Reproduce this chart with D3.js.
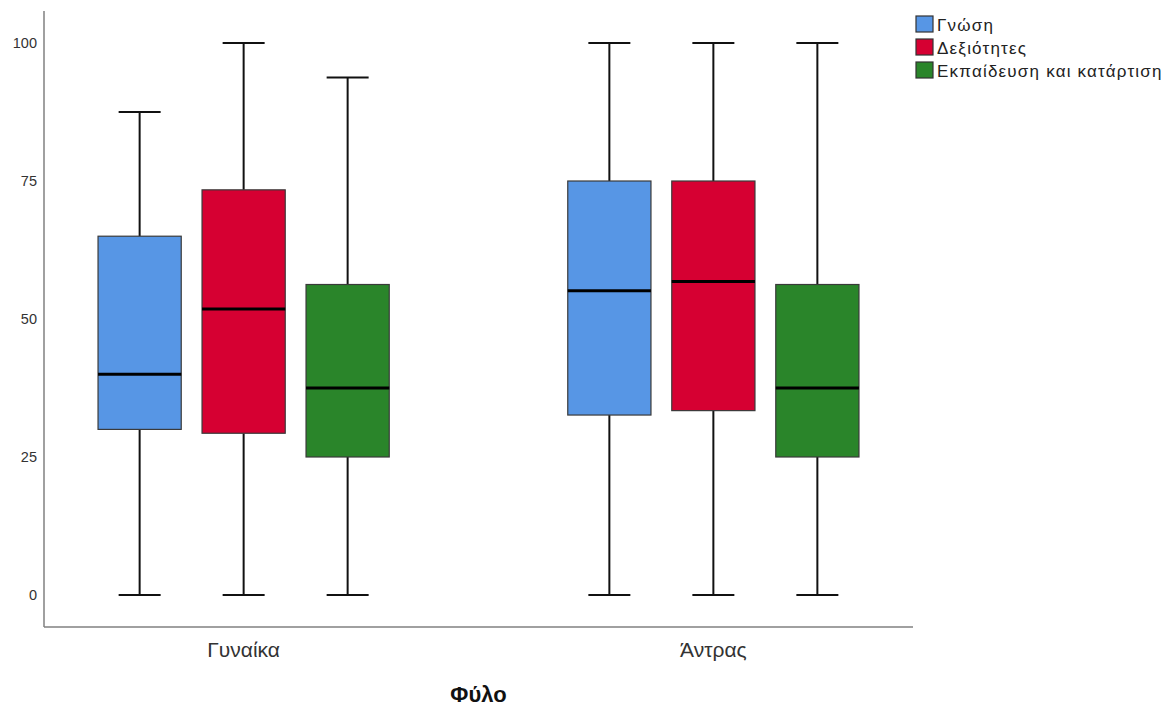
<!DOCTYPE html>
<html><head><meta charset="utf-8">
<script src="https://cdn.jsdelivr.net/npm/d3@7"></script>
<style>body{margin:0;background:#fff;} svg{display:block;font-family:"Liberation Sans",Arial,sans-serif;}</style>
</head><body>
<svg id="c" width="1165" height="706"></svg>
<script>
const groups = ["Γυναίκα", "Άντρας"];
const series = ["Γνώση", "Δεξιότητες", "Εκπαίδευση και κατάρτιση"];
const colors = ["#5796e5", "#d60032", "#2a852a"];
const yTicks = [0, 25, 50, 75, 100];
// [min, q1, median, q3, max] per group, per series
const gnosi      = [[0, 30, 40, 65, 87.5],   [0, 32.6, 55.1, 75, 100]];
const dexiotites = [[0, 29.3, 51.8, 73.4, 100], [0, 33.4, 56.8, 75, 100]];
const ekpaidefsi = [[0, 25, 37.5, 56.25, 93.75], [0, 25, 37.5, 56.25, 100]];
const values = [gnosi, dexiotites, ekpaidefsi];

const svg = d3.select("#c");
const pLeft = 44, pRight = 913, pTop = 11, pBottom = 627;
const y = d3.scaleLinear().domain([-5.8, 105.8]).range([pBottom, pTop]);
const x = d3.scalePoint().domain(groups).range([pLeft, pRight]).padding(0.425);
const xs = d3.scaleBand().domain(series).range([-156, 156]).paddingInner(0.2).paddingOuter(0.1);
const bw = xs.bandwidth();
const capW = 42;

// axes lines
svg.append("line").attr("x1", pLeft).attr("x2", pLeft).attr("y1", pTop).attr("y2", pBottom)
  .attr("stroke", "#808080").attr("stroke-width", 1.5);
svg.append("line").attr("x1", pLeft).attr("x2", pRight).attr("y1", pBottom).attr("y2", pBottom)
  .attr("stroke", "#808080").attr("stroke-width", 1.5);

// y tick labels
svg.append("g").selectAll("text").data(yTicks).join("text")
  .attr("x", 37).attr("y", d => y(d)).attr("dy", "0.35em")
  .attr("text-anchor", "end").attr("font-size", 14.5).attr("fill", "#333")
  .text(d => d);

// x labels
svg.append("g").selectAll("text").data(groups).join("text")
  .attr("x", d => x(d)).attr("y", 657)
  .attr("text-anchor", "middle").attr("font-size", 21).attr("fill", "#333")
  .text(d => d);

svg.append("text").attr("x", (pLeft + pRight) / 2).attr("y", 702)
  .attr("text-anchor", "middle").attr("font-size", 22).attr("font-weight", "bold").attr("fill", "#111")
  .text("Φύλο");

// boxes
const items = [];
series.forEach((s, si) => groups.forEach((g, gi) => {
  const v = values[si][gi];
  items.push({s, si, g, min: v[0], q1: v[1], med: v[2], q3: v[3], max: v[4]});
}));
const bx = svg.append("g").selectAll("g").data(items).join("g")
  .attr("transform", d => `translate(${x(d.g) + xs(d.s) + bw / 2},0)`);
// whiskers
bx.append("line").attr("x1", 0).attr("x2", 0).attr("y1", d => y(d.max)).attr("y2", d => y(d.q3))
  .attr("stroke", "#111").attr("stroke-width", 2);
bx.append("line").attr("x1", 0).attr("x2", 0).attr("y1", d => y(d.q1)).attr("y2", d => y(d.min))
  .attr("stroke", "#111").attr("stroke-width", 2);
bx.append("line").attr("x1", -capW / 2).attr("x2", capW / 2).attr("y1", d => y(d.max)).attr("y2", d => y(d.max))
  .attr("stroke", "#111").attr("stroke-width", 2);
bx.append("line").attr("x1", -capW / 2).attr("x2", capW / 2).attr("y1", d => y(d.min)).attr("y2", d => y(d.min))
  .attr("stroke", "#111").attr("stroke-width", 2);
// box
bx.append("rect").attr("x", -bw / 2).attr("width", bw)
  .attr("y", d => y(d.q3)).attr("height", d => y(d.q1) - y(d.q3))
  .attr("fill", d => colors[d.si]).attr("stroke", "#3a3a3a").attr("stroke-width", 1.2);
bx.append("line").attr("x1", -bw / 2).attr("x2", bw / 2).attr("y1", d => y(d.med)).attr("y2", d => y(d.med))
  .attr("stroke", "#000").attr("stroke-width", 3);

// legend
const lg = svg.append("g").selectAll("g").data(series).join("g")
  .attr("transform", (d, i) => `translate(916,${16 + i * 23})`);
lg.append("rect").attr("width", 17).attr("height", 16)
  .attr("fill", (d, i) => colors[i]).attr("stroke", "#333").attr("stroke-width", 1.2);
lg.append("text").attr("x", 21).attr("y", 15)
  .attr("font-size", 17).attr("letter-spacing", 1.2).attr("fill", "#222").text(d => d);
</script>
</body></html>
